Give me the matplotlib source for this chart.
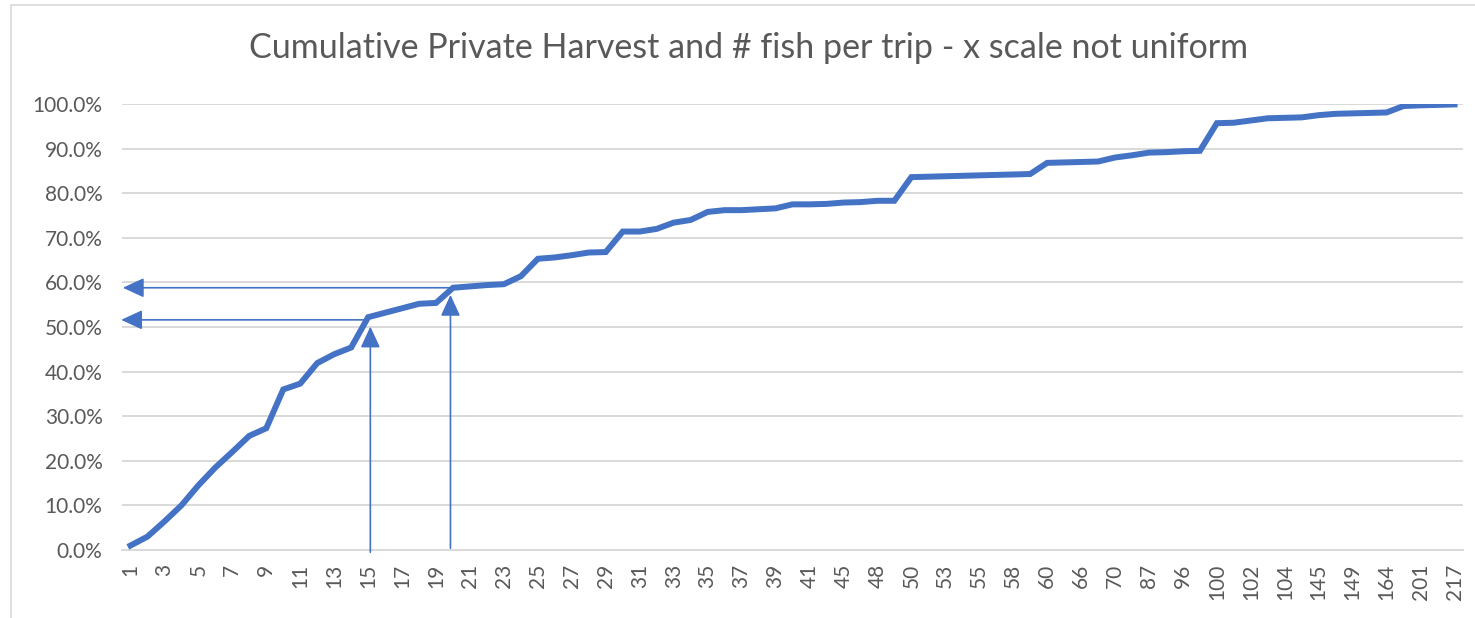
import numpy as np
import matplotlib
matplotlib.use("Agg")
from matplotlib import pyplot as plt
from matplotlib.patches import Rectangle

# fish per trip (categories, x scale not uniform)
fish = [1, 2, 3, 4, 5, 6, 7, 8, 9, 10, 11, 12, 13, 14, 15, 16, 17, 18, 19, 20,
        21, 22, 23, 24, 25, 26, 27, 28, 29, 30, 31, 32, 33, 34, 35, 36, 37, 38, 39, 40,
        41, 42, 45, 46, 48, 49, 50, 52, 53, 54, 55, 57, 58, 59, 60, 64, 66, 68, 70, 80,
        87, 90, 96, 98, 100, 101, 102, 103, 104, 120, 145, 147, 149, 160, 164, 180, 201, 210, 217]

# cumulative share of private harvest
cum_pct = [1.0, 3.0, 6.4, 10.0, 14.5, 18.5, 22.0, 25.6, 27.3, 36.0,
           37.3, 41.9, 43.9, 45.4, 52.2, 53.2, 54.2, 55.2, 55.4, 58.8,
           59.1, 59.4, 59.6, 61.4, 65.3, 65.6, 66.1, 66.7, 66.8, 71.4,
           71.4, 72.0, 73.4, 74.0, 75.8, 76.2, 76.2, 76.4, 76.6, 77.5,
           77.5, 77.6, 77.9, 78.0, 78.3, 78.3, 83.6, 83.7, 83.8, 83.9,
           84.0, 84.1, 84.2, 84.3, 86.8, 86.9, 87.0, 87.1, 88.0, 88.5,
           89.1, 89.2, 89.4, 89.5, 95.7, 95.8, 96.3, 96.8, 96.9, 97.0,
           97.5, 97.8, 97.9, 98.0, 98.1, 99.55, 99.7, 99.8, 99.9]

# guide arrows: (x position in category index, start %, arrow tip %)
up_arrows = [(14.13, -0.5, 50.1), (18.85, 0.4, 57.2)]
# (start x index, y %, arrow tip x index)
left_arrows = [(13.8, 51.6, -0.55), (18.9, 58.8, -0.45)]

plt.rcParams['font.family'] = ['Lato', 'DejaVu Sans']
grey = '#595959'
blue = '#4472C4'

fig = plt.figure(figsize=(14.75, 6.18), dpi=100)
ax = fig.add_axes([122/1475, 1-550/618, (1463-122)/1475, (550-104)/618])

x = np.arange(len(fish))
y = np.array(cum_pct) / 100
ax.plot(x, y, color=blue, lw=4.3, solid_joinstyle='miter', zorder=3)

head = '-|>,head_length=1.3,head_width=0.6'
for xa, y0, y1 in up_arrows:
    ax.annotate('', xy=(xa, y1/100), xytext=(xa, y0/100),
                arrowprops=dict(arrowstyle=head, color=blue, lw=1.2, shrinkA=0, shrinkB=0),
                annotation_clip=False, zorder=4)
for x0, ya, x1 in left_arrows:
    ax.annotate('', xy=(x1, ya/100), xytext=(x0, ya/100),
                arrowprops=dict(arrowstyle=head, color=blue, lw=1.2, shrinkA=0, shrinkB=0),
                annotation_clip=False, zorder=4)

ax.set_xlim(-0.5, len(fish) - 0.5)
ax.set_ylim(0, 1)
ax.set_yticks(np.arange(0, 1.01, 0.1))
ax.set_yticklabels(['{:.1f}%'.format(v * 100) for v in np.arange(0, 1.01, 0.1)])
ax.set_xticks(x[::2])
ax.set_xticklabels([str(f) for f in fish[::2]], rotation=90)
ax.tick_params(axis='y', length=0, pad=14, labelsize=15, labelcolor=grey)
ax.tick_params(axis='x', length=0, pad=10, labelsize=15, labelcolor=grey)
ax.grid(axis='y', color='#d9d9d9', lw=1.4)
ax.set_axisbelow(True)
for s in ['top', 'right', 'left']:
    ax.spines[s].set_visible(False)
ax.spines['bottom'].set_color('#d9d9d9')
ax.spines['bottom'].set_linewidth(1.4)

fig.text(749/1475, 1-48/618, 'Cumulative Private Harvest and # fish per trip - x scale not uniform',
         ha='center', va='center', fontsize=24.5, color=grey)

# chart frame (cropped on right and bottom)
fig.patches.append(Rectangle((11/1475, -0.1), 1.2, 1 - 5/618 + 0.1, transform=fig.transFigure,
                             fill=False, edgecolor='#d9d9d9', lw=1.2))

fig.savefig('out.png', dpi=100)
